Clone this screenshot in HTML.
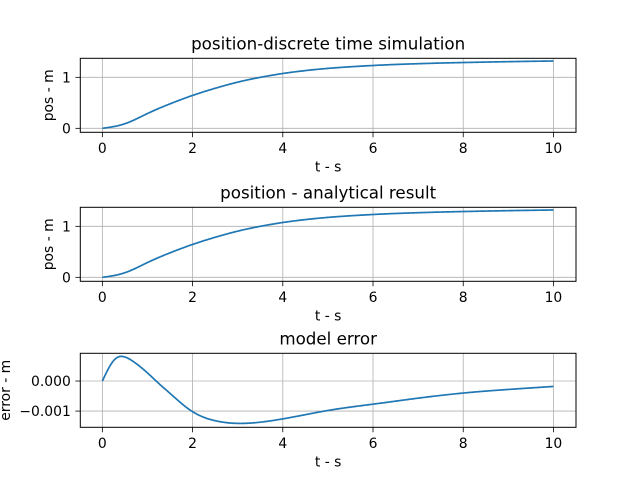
<!DOCTYPE html>
<html><head><meta charset="utf-8"><style>
body{margin:0;background:#fff;width:640px;height:480px;overflow:hidden}
svg text{font-family:"DejaVu Sans","Liberation Sans",sans-serif;fill:#000}
</style></head><body>
<svg id="fig" width="640" height="480"></svg>
<script>
const tPos=[0,0.5,1,1.5,2,2.5,3,3.5,4,4.5,5,5.5,6,6.5,7,7.5,8,8.5,9,9.5,10];
const posSim=[0,0.09,0.29,0.48,0.645,0.785,0.905,1.0,1.075,1.132,1.175,1.207,1.232,1.252,1.267,1.28,1.29,1.299,1.307,1.314,1.32];
const posAna=[0,0.09,0.29,0.48,0.645,0.785,0.905,1.0,1.075,1.132,1.175,1.207,1.232,1.252,1.267,1.28,1.29,1.299,1.307,1.314,1.32];
const tErr=[0,0.25,0.4,0.5,0.75,1,1.25,1.5,1.75,2,2.5,3,3.5,4,4.5,5,6,7,8,9,10];
const errVals=[0,0.00068,0.00082,0.00080,0.00058,0.00027,-0.00008,-0.00041,-0.00074,-0.00102,-0.00132,-0.00141,-0.00137,-0.00126,-0.00112,-0.00098,-0.00077,-0.00057,-0.0004,-0.00028,-0.00018];
const xTicks=[0,2,4,6,8,10];
const posTicks=[0,1];
const errTicks=[0,-0.001];
const errTickLabels=["0.000","\u22120.001"];

const NS="http://www.w3.org/2000/svg";
const svg=document.getElementById('fig');
function el(tag,attrs,parent){const e=document.createElementNS(NS,tag);for(const k in attrs)e.setAttribute(k,attrs[k]);(parent||svg).appendChild(e);return e;}
function txt(s,attrs,name,parent){const e=el('text',attrs,parent);e.textContent=s;


return e;}
// natural cubic spline
function interp(xs,ys){const n=xs.length,h=[],a=[],b=[],c=[],r=[],M=new Array(n).fill(0);
for(let i=0;i<n-1;i++)h[i]=xs[i+1]-xs[i];
for(let i=1;i<n-1;i++){a[i]=h[i-1];b[i]=2*(h[i-1]+h[i]);c[i]=h[i];r[i]=6*((ys[i+1]-ys[i])/h[i]-(ys[i]-ys[i-1])/h[i-1]);}
for(let i=2;i<n-1;i++){const w=a[i]/b[i-1];b[i]-=w*c[i-1];r[i]-=w*r[i-1];}
for(let i=n-2;i>=1;i--){M[i]=(r[i]-(i<n-2?c[i]*M[i+1]:0))/b[i];}
return t=>{let i=0;while(i<n-2&&t>xs[i+1])i++;const hi=h[i],A=(xs[i+1]-t)/hi,B=(t-xs[i])/hi;
return A*ys[i]+B*ys[i+1]+((A*A*A-A)*M[i]+(B*B*B-B)*M[i+1])*hi*hi/6;};}

function panel(o){
const L=80.3,R=576,T=o.top,B=o.top+74;
const X=v=>L+(v+0.489)/(10.989)*(R-L);
const Y=v=>B-(v-o.ymin)/(o.ymax-o.ymin)*(B-T);
const g=el('g',{});


xTicks.forEach(v=>{const l=el('line',{x1:X(v),x2:X(v),y1:T,y2:B,stroke:'#b0b0b0','stroke-width':0.8},g);


el('line',{x1:X(v),x2:X(v),y1:B,y2:B+4.9,stroke:'#000','stroke-width':0.8},g);
txt(String(v),{x:X(v),y:B+20.5,'font-size':13.9,'text-anchor':'middle'},'x-tick-label',g);});
o.ticks.forEach((v,i)=>{const l=el('line',{x1:L,x2:R,y1:Y(v),y2:Y(v),stroke:'#b0b0b0','stroke-width':0.8},g);


el('line',{x1:L-4.9,x2:L,y1:Y(v),y2:Y(v),stroke:'#000','stroke-width':0.8},g);
txt(o.labels[i],{x:L-9.5,y:Y(v)+5,'font-size':13.9,'text-anchor':'end'},'y-tick-label',g);});
const f=interp(o.xs,o.ys);let d='';
for(let k=0;k<=400;k++){const t=o.xs[0]+(o.xs[o.xs.length-1]-o.xs[0])*k/400;d+=(k?'L':'M')+X(t).toFixed(2)+','+Y(f(t)).toFixed(2);}
const p=el('path',{d:d,fill:'none',stroke:'#1f77b4','stroke-width':1.7,'stroke-linejoin':'round'},g);


const r=el('rect',{x:L,y:T,width:R-L,height:B-T,fill:'none',stroke:'#000','stroke-width':1},g);


txt(o.title,{x:(L+R)/2,y:T-9,'font-size':16.7,'text-anchor':'middle'},'plot-title',g);
txt('t - s',{x:(L+R)/2,y:B+39,'font-size':13.9,'text-anchor':'middle'},'x-axis-title',g);
txt(o.ylabel,{x:0,y:0,'font-size':13.9,'text-anchor':'middle',transform:'translate('+o.ylx+','+(T+B)/2+') rotate(-90)'},'y-axis-title',g);
}
panel({name:'discrete-sim-plot',top:58.3,ymin:-0.078,ymax:1.373,xs:tPos,ys:posSim,ticks:posTicks,labels:posTicks.map(String),title:'position-discrete time simulation',ylabel:'pos - m',ylx:53});
panel({name:'analytical-plot',top:207.3,ymin:-0.078,ymax:1.373,xs:tPos,ys:posAna,ticks:posTicks,labels:posTicks.map(String),title:'position - analytical result',ylabel:'pos - m',ylx:53});
panel({name:'model-error-plot',top:353.3,ymin:-0.00154,ymax:0.000923,xs:tErr,ys:errVals,ticks:errTicks,labels:errTickLabels,title:'model error',ylabel:'error - m',ylx:10});
</script>
</body></html>
